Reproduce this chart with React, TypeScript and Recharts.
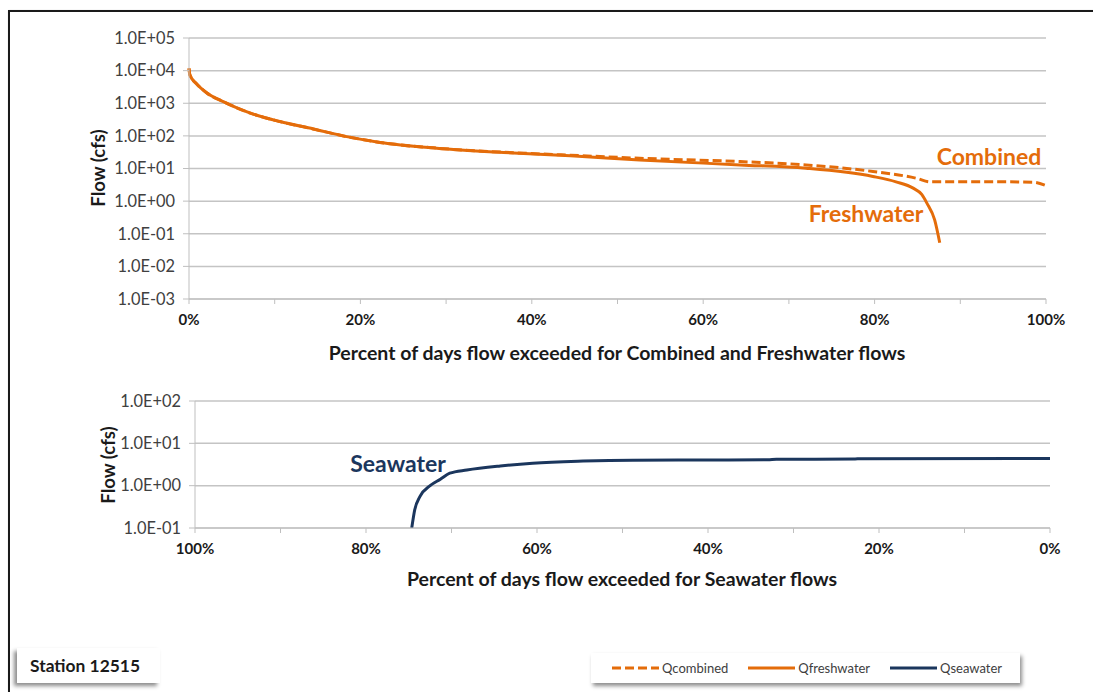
import React from 'react';
import { LineChart, Line, XAxis, YAxis, CartesianGrid } from 'recharts';

const FONT = "Lato, 'Liberation Sans', sans-serif";
const ORANGE = '#E46C0A';
const NAVY = '#1B365D';

// percent of days exceeded (top chart) and flow in cfs
const freshPct = [0, 0.1, 0.9, 2.05, 4, 6.7, 10.6, 14.5, 18.4, 22.3, 28.9, 36.7, 44.5, 52.6, 64.3, 72, 79.8, 82.5, 84.5, 85.5, 86.1, 87, 87.6];
const freshFlow = [11800, 7400, 3900, 2100, 1120, 550, 275, 163, 95, 63, 42, 31, 24.5, 18.3, 12.9, 10.2, 5.7, 3.9, 2.5, 1.6, 0.87, 0.27, 0.053];

const combPct = [0, 0.1, 0.9, 2.05, 4, 6.7, 10.6, 14.5, 18.4, 22.3, 28.9, 36.7, 44.5, 52.6, 64.3, 72, 79.8, 84.9, 86.5, 95, 98.5, 100];
const combFlow = [11800, 7400, 3900, 2100, 1120, 550, 275, 163, 95, 63, 42, 31.5, 25.5, 20.6, 16.3, 12.9, 8.1, 5.0, 3.9, 3.9, 3.8, 3.0];

// bottom chart (x axis reversed)
const seaPct = [74.65, 74.3, 73.7, 72.5, 71.3, 70.2, 68.2, 64.3, 60.5, 54.6, 48.8, 40, 33, 32, 23, 22, 0];
const seaFlow = [0.1, 0.27, 0.55, 1.0, 1.42, 1.97, 2.35, 2.93, 3.4, 3.8, 4.0, 4.05, 4.1, 4.2, 4.25, 4.35, 4.4];

const xTicks = [0, 10, 20, 30, 40, 50, 60, 70, 80, 90, 100];
const topYTicks = [0.001, 0.01, 0.1, 1, 10, 100, 1000, 10000, 100000];
const bottomYTicks = [0.1, 1, 10, 100];

const legendItems = [
  { name: 'Qcombined', color: ORANGE, dash: '9 4' },
  { name: 'Qfreshwater', color: ORANGE, dash: '' },
  { name: 'Qseawater', color: NAVY, dash: '' },
];

const toPoints = (pct: number[], flow: number[]) => pct.map((p, i) => ({ pct: p, flow: flow[i] }));
const freshData = toPoints(freshPct, freshFlow);
const combData = toPoints(combPct, combFlow);
const seaData = toPoints(seaPct, seaFlow);

const sci = (v: number) => {
  const e = Math.round(Math.log10(v));
  return `1.0E${e < 0 ? '-' : '+'}${String(Math.abs(e)).padStart(2, '0')}`;
};
const pctLabel = (v: number) => (v % 20 === 0 ? `${v}%` : '');

const yTick = { fontSize: 16.4, fill: '#404040', fontFamily: FONT };
const xTick = { fontSize: 15, fill: '#1a1a1a', fontFamily: FONT, fontWeight: 700 };

const Title = ({ x, y, text, rotate = false, color = '#1a1a1a', size = 17 }: any) => (
  <div
    style={{
      position: 'absolute',
      left: x,
      top: y,
      transform: `translate(-50%, -50%)${rotate ? ' rotate(-90deg)' : ''}`,
      whiteSpace: 'nowrap',
      fontFamily: FONT,
      fontWeight: 700,
      fontSize: size,
      color,
      lineHeight: 1,
    }}
  >
    {text}
  </div>
);

export default function App() {
  return (
    <div style={{ position: 'absolute', left: 0, top: 0, width: 1093, height: 692, background: '#fff', overflow: 'hidden' }}>
      <div
        style={{
          position: 'absolute',
          left: 8,
          top: 10,
          width: 1120,
          height: 720,
          borderTop: '2px solid #1a1a1a',
          borderLeft: '2px solid #1a1a1a',
          boxShadow: '1px 1px 2px #888',
        }}
      />

      <div style={{ position: 'absolute', left: 0, top: 0 }}>
        <LineChart width={1093} height={340} margin={{ top: 38, right: 47, bottom: 0, left: 0 }}>
          <CartesianGrid vertical={false} stroke="#c4c4c4" strokeWidth={1.5} />
          <XAxis
            type="number"
            dataKey="pct"
            domain={[0, 100]}
            ticks={xTicks}
            interval={0}
            tickFormatter={pctLabel}
            height={41}
            stroke="#bfbfbf"
            tickSize={5}
            tickMargin={10}
            tick={xTick}
            allowDuplicatedCategory={false}
          />
          <YAxis
            type="number"
            scale="log"
            domain={[0.001, 100000]}
            ticks={topYTicks}
            interval={0}
            tickFormatter={sci}
            width={189}
            stroke="#bfbfbf"
            tickSize={6}
            tickMargin={8}
            tick={yTick}
            allowDataOverflow
          />
          <Line data={combData} dataKey="flow" type="monotone" stroke={ORANGE} strokeWidth={3} strokeDasharray="9 4" dot={false} isAnimationActive={false} />
          <Line data={freshData} dataKey="flow" type="monotone" stroke={ORANGE} strokeWidth={3} dot={false} isAnimationActive={false} />
        </LineChart>
      </div>

      <div style={{ position: 'absolute', left: 0, top: 360 }}>
        <LineChart width={1093} height={209} margin={{ top: 41, right: 43, bottom: 0, left: 0 }}>
          <CartesianGrid vertical={false} stroke="#c4c4c4" strokeWidth={1.5} />
          <XAxis
            type="number"
            dataKey="pct"
            domain={[0, 100]}
            reversed
            ticks={xTicks}
            interval={0}
            tickFormatter={pctLabel}
            height={41}
            stroke="#bfbfbf"
            tickSize={5}
            tickMargin={10}
            tick={xTick}
            allowDuplicatedCategory={false}
          />
          <YAxis
            type="number"
            scale="log"
            domain={[0.1, 100]}
            ticks={bottomYTicks}
            interval={0}
            tickFormatter={sci}
            width={195}
            stroke="#bfbfbf"
            tickSize={6}
            tickMargin={8}
            tick={yTick}
            allowDataOverflow
          />
          <Line data={seaData} dataKey="flow" type="monotone" stroke={NAVY} strokeWidth={3} dot={false} isAnimationActive={false} />
        </LineChart>
      </div>

      <Title x={617} y={353} text="Percent of days flow exceeded for Combined and Freshwater flows" size={19.5} />
      <Title x={98} y={168} text="Flow (cfs)" rotate size={18.5} />
      <Title x={622} y={579} text="Percent of days flow exceeded for Seawater flows" size={19.5} />
      <Title x={108} y={465} text="Flow (cfs)" rotate size={18.5} />

      <Title x={989} y={156} text="Combined" color={ORANGE} size={23} />
      <Title x={866} y={213} text="Freshwater" color={ORANGE} size={23} />
      <Title x={398} y={463} text="Seawater" color={NAVY} size={23} />

      <div
        style={{
          position: 'absolute',
          left: 17,
          top: 648,
          width: 143,
          height: 35,
          background: '#fff',
          boxShadow: '-3px 3px 4px rgba(0,0,0,0.45)',
          fontFamily: FONT,
          fontWeight: 700,
          fontSize: 17.4,
          color: '#1a1a1a',
          lineHeight: '35px',
          paddingLeft: 13,
          boxSizing: 'border-box',
          whiteSpace: 'nowrap',
        }}
      >
        Station 12515
      </div>

      <div
        style={{
          position: 'absolute',
          left: 591,
          top: 653,
          width: 429,
          height: 30,
          background: '#fff',
          boxShadow: '2px 3px 4px rgba(0,0,0,0.45)',
          display: 'flex',
          alignItems: 'center',
          paddingLeft: 21,
          boxSizing: 'border-box',
          fontFamily: FONT,
          fontSize: 13,
          color: '#404040',
        }}
      >
        {legendItems.map((item) => (
          <div key={item.name} style={{ display: 'flex', alignItems: 'center', marginRight: 20 }}>
            <svg width={47} height={6} style={{ marginRight: 3 }}>
              <line x1={0} y1={3} x2={47} y2={3} stroke={item.color} strokeWidth={3} strokeDasharray={item.dash || undefined} />
            </svg>
            <span>{item.name}</span>
          </div>
        ))}
      </div>
    </div>
  );
}
